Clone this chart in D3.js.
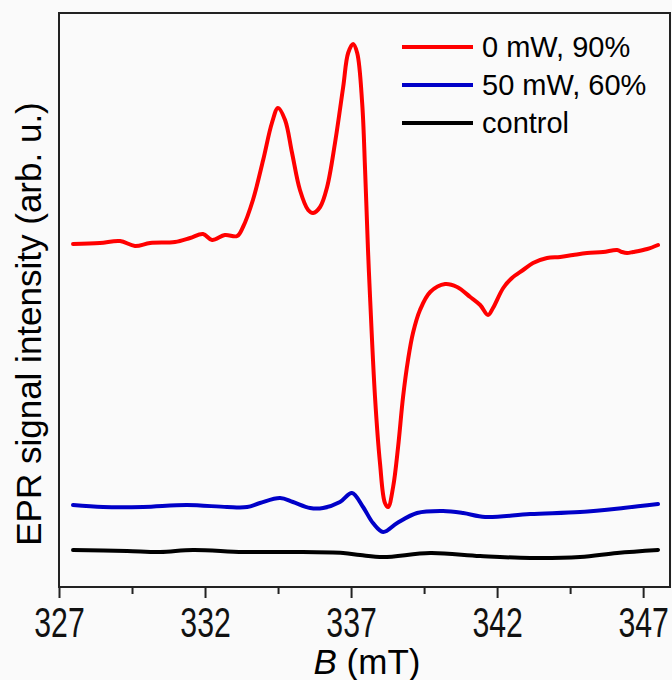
<!DOCTYPE html>
<html>
<head>
<meta charset="utf-8">
<script src="https://cdn.jsdelivr.net/npm/d3@7"></script>
<style>
  body { margin: 0; background: #fafafa; }
  svg { display: block; }
  .tick-label { font-family: "Liberation Sans Narrow", "Arial Narrow", "Liberation Sans", Arial, sans-serif; }
  .txt { font-family: "Liberation Sans", Arial, sans-serif; fill: #000; }
</style>
</head>
<body>
<div id="chart"></div>
<script>
// magnetic field (mT) and EPR intensity (arb. u.) for each trace
var redB = [327.48, 328.40, 329.09, 329.60, 330.12, 330.97, 331.49, 331.93, 332.24, 332.68, 333.10, 333.30,
  333.64, 333.99, 334.29, 334.50, 334.74, 334.98, 335.25, 335.53, 335.70, 335.94, 336.18, 336.45, 336.73,
  336.90, 337.07, 337.21, 337.38, 337.48, 337.58, 337.65, 337.82, 337.99, 338.16, 338.27, 338.44, 338.61,
  338.78, 338.95, 339.12, 339.36, 339.71, 340.22, 340.63, 341.08, 341.42, 341.69, 341.86, 342.21, 342.51,
  342.89, 343.23, 343.71, 344.16, 344.60, 345.08, 345.63, 346.11, 346.28, 346.45, 346.66, 347.14, 347.51];
var redI = [343, 344, 346, 341, 344, 345, 349, 353, 347, 352, 351, 360,
  387, 427, 464, 479, 467, 434, 397, 377, 374, 380, 400, 444, 500,
  534, 543, 534, 484, 417, 337, 290, 190, 124, 84, 80, 100, 140,
  190, 227, 254, 277, 295, 303, 300, 290, 282, 272, 279, 299, 309,
  317, 324, 329, 330, 332, 334, 335, 337, 335, 334, 335, 338, 342];

var blueB = [327.48, 328.51, 329.88, 331.38, 332.75, 333.44, 333.88, 334.57, 335.01, 335.60, 336.04, 336.62,
  337.03, 337.41, 337.75, 338.10, 338.58, 339.26, 340.15, 340.84, 341.59, 343.13, 344.84, 346.32, 347.51];
var blueI = [82, 80, 80, 82, 80, 80, 84, 89, 85, 79, 79, 85,
  94, 80, 64, 55, 64, 74, 76, 74, 70, 73, 75, 79, 83];

var blackB = [327.48, 329.33, 330.46, 331.59, 333.30, 335.01, 336.73, 337.31, 338.10, 339.71, 341.42,
  343.13, 344.84, 346.11, 347.51];
var blackI = [37, 36, 35, 37, 35, 35, 34, 32, 30, 34, 31, 29, 30, 34, 37];

var seriesNames = ["0 mW, 90%", "50 mW, 60%", "control"];
var seriesColors = ["#ff0000", "#0000c8", "#000000"];
var majorTicks = [327, 332, 337, 342, 347];
var minorTicks = [329.5, 334.5, 339.5, 344.5];

var W = 672, H = 680;
var margin = {top: 13, right: 2, bottom: 93, left: 59};
var width = W - margin.left - margin.right,
    height = H - margin.top - margin.bottom;

var svg = d3.select("#chart").append("svg")
  .attr("width", W)
  .attr("height", H);

var g = svg.append("g")
  .attr("transform", "translate(" + margin.left + "," + margin.top + ")");

var x = d3.scaleLinear().domain([327, 347.92]).range([0, width]);
var y = d3.scaleLinear().domain([0, 574]).range([height, 0]);

// axes
var xAxis = d3.axisBottom(x).tickValues(majorTicks).tickSize(11).tickFormat(d3.format("d"));
var xAxisG = g.append("g").attr("transform", "translate(0," + height + ")").call(xAxis);
xAxisG.select(".domain").remove();
xAxisG.selectAll(".tick line").attr("stroke", "#222").attr("stroke-width", 2);
xAxisG.selectAll(".tick text")
  .attr("class", "tick-label")
  .attr("fill", "#111")
  .attr("font-size", 42)
  .attr("transform", "scale(0.72,1)")
  .attr("y", 20)
  .attr("dy", "0.71em");

var minorAxis = d3.axisBottom(x).tickValues(minorTicks).tickSize(7).tickFormat("");
var minorG = g.append("g").attr("transform", "translate(0," + height + ")").call(minorAxis);
minorG.select(".domain").remove();
minorG.selectAll(".tick line").attr("stroke", "#222").attr("stroke-width", 2);

// lines
var line = d3.line()
  .x(d => x(d[0]))
  .y(d => y(d[1]))
  .curve(d3.curveCatmullRom.alpha(0.5));

var traces = [
  d3.zip(blackB, blackI),
  d3.zip(blueB, blueI),
  d3.zip(redB, redI)
];
var traceColors = [seriesColors[2], seriesColors[1], seriesColors[0]];

g.selectAll(".trace")
  .data(traces)
  .enter()
  .append("path")
  .attr("class", "trace")
  .attr("d", line)
  .attr("fill", "none")
  .attr("stroke", (d, i) => traceColors[i])
  .attr("stroke-width", 4)
  .attr("stroke-linejoin", "round")
  .attr("stroke-linecap", "round");

// frame
g.append("rect")
  .attr("x", 0).attr("y", 0)
  .attr("width", width).attr("height", height)
  .attr("fill", "none")
  .attr("stroke", "#222")
  .attr("stroke-width", 2);

// legend
var legend = g.append("g").attr("transform", "translate(343,34)");
var rows = legend.selectAll("g")
  .data(seriesNames)
  .enter()
  .append("g")
  .attr("transform", (d, i) => "translate(0," + (i * 38) + ")");
rows.append("line")
  .attr("x1", 0).attr("x2", 71)
  .attr("y1", 0).attr("y2", 0)
  .attr("stroke", (d, i) => seriesColors[i])
  .attr("stroke-width", 4);
rows.append("text")
  .attr("class", "txt")
  .attr("x", 80)
  .attr("y", 10)
  .attr("font-size", 29)
  .text(d => d);

// axis labels
var xl = svg.append("text")
  .attr("class", "txt")
  .attr("x", 367)
  .attr("y", 674)
  .attr("text-anchor", "middle")
  .attr("font-size", 35);
xl.append("tspan").attr("font-style", "italic").text("B");
xl.append("tspan").text(" (mT)");

svg.append("text")
  .attr("class", "txt")
  .attr("transform", "translate(41," + (margin.top + height / 2 + 24) + ") rotate(-90)")
  .attr("text-anchor", "middle")
  .attr("font-size", 35)
  .text("EPR signal intensity (arb. u.)");
</script>
</body>
</html>
